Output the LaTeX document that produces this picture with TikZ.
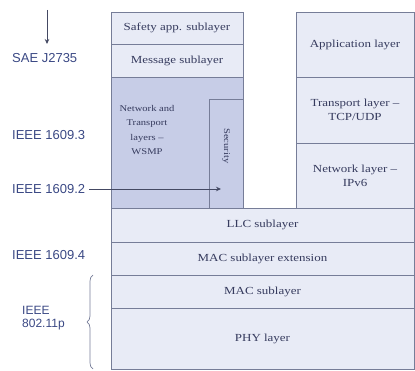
\documentclass[tikz,border=0pt]{standalone}
\usepackage{fontspec}
\setmainfont{Liberation Serif}[FakeStretch=1.2]
\newfontfamily\labfont{Liberation Sans}
\usetikzlibrary{arrows.meta,decorations.pathreplacing}
\definecolor{boxfill}{HTML}{E8EBF6}
\definecolor{darkfill}{HTML}{C7CDE7}
\definecolor{boxline}{HTML}{767D98}
\definecolor{boxtext}{HTML}{363B5E}
\definecolor{labtext}{HTML}{3A4884}
\definecolor{arrowcol}{HTML}{444963}
\tikzset{
  layerbox/.style={draw=boxline, line width=0.8pt, fill=boxfill, text=boxtext, inner sep=0pt, outer sep=0pt,
    font=\fontsize{10.8}{12}\selectfont, align=center},
  darkbox/.style={layerbox, fill=darkfill},
  smalltext/.style={text=boxtext, font=\fontsize{8.8}{14.5}\selectfont, align=center, inner sep=0pt},
  stdlabel/.style={text=labtext, font=\labfont\fontsize{13}{13}\selectfont, anchor=west, inner sep=1pt, align=left},
  arr/.style={draw=arrowcol, line width=0.8pt, -{Stealth[length=5pt,width=4.5pt]}},
}
\begin{document}
\begin{tikzpicture}[x=1pt,y=-1pt]
\useasboundingbox (0,0) rectangle (415,371);
% left stack
\node[layerbox, minimum width=132pt, minimum height=32pt] (safety) at (177,28) {Safety app. sublayer};
\node[layerbox, minimum width=132pt, minimum height=33pt] (message) at (177,60.5) {Message sublayer};
\node[darkbox, minimum width=132pt, minimum height=131pt] (nettrans) at (177,142.5) {};
\node[smalltext] (nettext) at (147,130) {Network and\\Transport\\layers --\\WSMP};
\node[darkbox, minimum width=34pt, minimum height=109pt] (security) at (226,153.5) {};
\node[smalltext, rotate=-90] (sectext) at (226,146) {Security};
% right stack
\node[layerbox, minimum width=118pt, minimum height=65pt] (app) at (355,44.5) {Application layer};
\node[layerbox, minimum width=118pt, minimum height=66pt, font=\fontsize{10.8}{14}\selectfont] (transport) at (355,110) {Transport layer --\\TCP/UDP};
\node[layerbox, minimum width=118pt, minimum height=65pt, font=\fontsize{10.8}{14}\selectfont] (netlayer) at (355,175.5) {Network layer --\\IPv6};
% full-width layers
\node[layerbox, minimum width=303pt, minimum height=34pt] (llc) at (262.5,225) {LLC sublayer};
\node[layerbox, minimum width=303pt, minimum height=33pt] (macext) at (262.5,258.5) {MAC sublayer extension};
\node[layerbox, minimum width=303pt, minimum height=33pt] (mac) at (262.5,291.5) {MAC sublayer};
\node[layerbox, minimum width=303pt, minimum height=61pt] (phy) at (262.5,338.5) {PHY layer};
% labels
\node[stdlabel] (sae) at (11,58) {SAE J2735};
\node[stdlabel] (l3) at (11,135) {IEEE 1609.3};
\node[stdlabel] (l2) at (11,189) {IEEE 1609.2};
\node[stdlabel] (l4) at (11,255) {IEEE 1609.4};
\node[stdlabel, font=\labfont\fontsize{12}{13}\selectfont] (l80211) at (21,318) {IEEE\\802.11p};
% connectors
\coordinate (saetop) at (47,10);
\coordinate (saeend) at (47,44);
\draw[arr] (saetop) -- (saeend);
\coordinate (secpt) at (221,189);
\draw[arr] (l2.east) ++(3,0) -- (secpt);
\coordinate (bracetop) at (93,275);
\coordinate (bracebot) at (93,369);
\draw[draw=boxline, line width=0.7pt, decorate, decoration={brace, amplitude=6pt}] (bracebot) -- (bracetop);
\end{tikzpicture}
\end{document}
